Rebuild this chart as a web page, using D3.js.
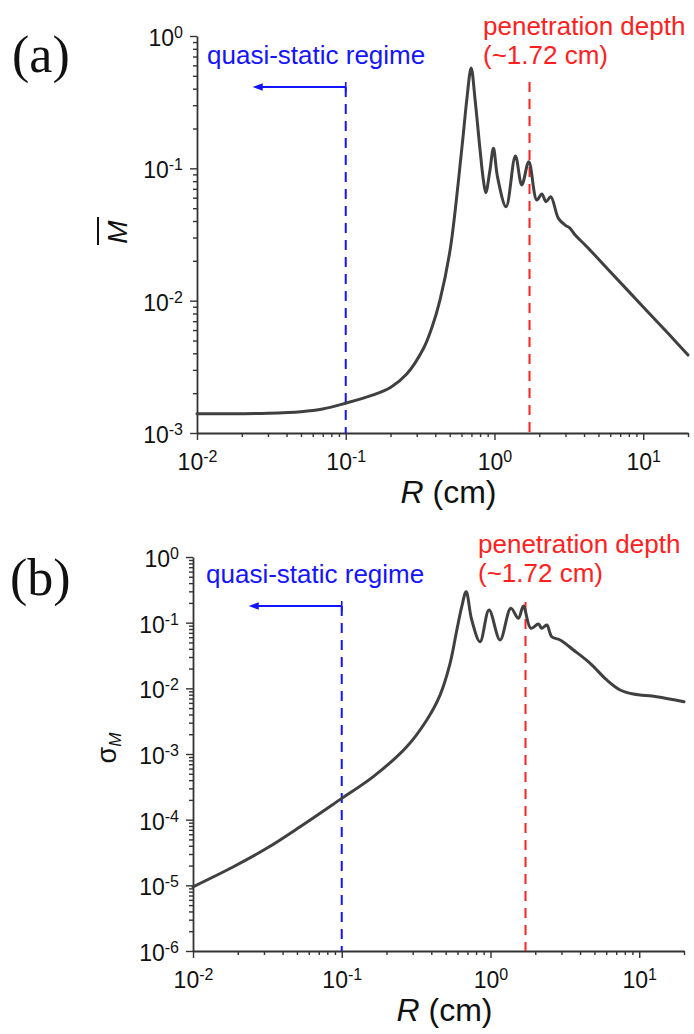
<!DOCTYPE html>
<html>
<head>
<meta charset="utf-8">
<script src="https://cdn.jsdelivr.net/npm/d3@7"></script>
<style>
  html, body { margin: 0; padding: 0; background: #fff; }
  svg { display: block; font-family: "Liberation Sans", Arial, sans-serif; }
</style>
</head>
<body>
<svg id="fig" width="694" height="1034"></svg>
<script>
// Radius R (cm) and mean magnetisation M̄ for panel (a)
const radiusA = [0.01, 0.02, 0.03, 0.05, 0.07, 0.1, 0.153, 0.2, 0.257, 0.333, 0.38, 0.43, 0.503, 0.57, 0.618, 0.651,
                 0.697, 0.741, 0.80, 0.842, 0.874, 0.93, 0.984, 1.05, 1.197, 1.382, 1.526, 1.701, 1.925, 2.08, 2.22,
                 2.39, 2.69, 3.0, 3.2, 3.5, 4.18, 6, 10, 15, 20];
const meanM   = [0.00140, 0.00140, 0.00141, 0.00145, 0.00152, 0.00168, 0.00194, 0.00221, 0.00279, 0.00435, 0.0063,
                 0.0101, 0.0241, 0.077, 0.184, 0.328, 0.573, 0.328, 0.1375, 0.0816, 0.0654, 0.095, 0.1416, 0.085,
                 0.0513, 0.124, 0.0748, 0.112, 0.0576, 0.064, 0.056, 0.061, 0.0419, 0.0371, 0.0355, 0.0312, 0.02556,
                 0.01655, 0.00897, 0.00552, 0.00388];

// Radius R (cm) and standard deviation σ_M for panel (b)
const radiusB = [0.01, 0.0187, 0.0313, 0.0525, 0.1, 0.163, 0.2735, 0.373, 0.458, 0.535, 0.593, 0.641, 0.686, 0.748,
                 0.851, 0.978, 1.16, 1.37, 1.54, 1.664, 1.866, 2.10, 2.21, 2.39, 2.58, 2.94, 3.61, 4.68, 6.05,
                 7.44, 9.14, 13.1, 20];
const sigmaM  = [9.5e-6, 1.92e-5, 3.66e-5, 7.8e-5, 2.11e-4, 4.52e-4, 1.29e-3, 3.3e-3, 7.9e-3, 0.024, 0.0759, 0.175,
                 0.296, 0.11, 0.0513, 0.156, 0.0545, 0.1655, 0.1165, 0.1795, 0.082, 0.0955, 0.082, 0.092, 0.0611,
                 0.0545, 0.0384, 0.024, 0.0134, 0.00944, 0.0082, 0.00746, 0.00626];

// Axis extents and marker positions
const xDomain = [0.01, 20];
const yDomainA = [1e-3, 1];
const yDomainB = [1e-6, 1];
const quasiStaticR = 0.1;
const penetrationR = 1.72;
const penetrationLabel = ["penetration depth", "(~1.72 cm)"];
const quasiLabel = "quasi-static regime";

const svg = d3.select("#fig");
const INK = "#333";
const CURVE = "#404040";
const BLUE = "#1414ff";
const RED = "#ff2020";
const SERIF = "'Liberation Serif', 'Times New Roman', serif";

const isMajor = v => Math.abs(Math.log10(v) - Math.round(Math.log10(v))) < 1e-6;

function expLabel(sel, v, supDy) {
  const e = Math.round(Math.log10(v));
  sel.append("tspan").text("10");
  sel.append("tspan").attr("font-size", 16).attr("dy", supDy).text(e);
}

function drawPanel(p) {
  const x = d3.scaleLog().domain(xDomain).range([p.left, p.right]);
  const y = d3.scaleLog().domain(p.yDomain).range([p.bottom, p.top]);

  // bottom axis
  const gx = svg.append("g").attr("transform", `translate(0,${p.bottom})`)
    .call(d3.axisBottom(x).tickValues(x.ticks()).tickSize(7).tickSizeOuter(0).tickFormat(""));
  gx.attr("font-family", null);
  gx.select(".domain").attr("stroke", INK).attr("stroke-width", 1.8);
  gx.selectAll(".tick line").attr("stroke", INK).attr("stroke-width", 1.4)
    .attr("y2", d => isMajor(d) ? 7 : 4);
  gx.selectAll(".tick text").remove();
  gx.selectAll(".tick").filter(isMajor).append("text")
    .attr("y", 37).attr("text-anchor", "middle").attr("fill", "#111")
    .attr("font-size", 23)
    .each(function (d) { expLabel(d3.select(this), d, -8); });

  // left axis
  const gy = svg.append("g").attr("transform", `translate(${p.left},0)`)
    .call(d3.axisLeft(y).tickValues(y.ticks()).tickSize(7).tickSizeOuter(0).tickFormat(""));
  gy.attr("font-family", null);
  gy.select(".domain").attr("stroke", INK).attr("stroke-width", 1.8);
  gy.selectAll(".tick line").attr("stroke", INK).attr("stroke-width", 1.4)
    .attr("x2", d => isMajor(d) ? -7 : -4);
  gy.selectAll(".tick text").remove();
  gy.selectAll(".tick").filter(isMajor).append("text")
    .attr("x", -14).attr("y", 9.5).attr("text-anchor", "end").attr("fill", "#111")
    .attr("font-size", 23)
    .each(function (d) { expLabel(d3.select(this), d, -8); });

  // x-axis title
  const xt = svg.append("text").attr("x", (p.left + p.right) / 2 + 6).attr("y", p.bottom + 70)
    .attr("text-anchor", "middle").attr("font-size", 32).attr("fill", "#111");
  xt.append("tspan").attr("font-style", "italic").text("R");
  xt.append("tspan").text(" (cm)");

  // panel tag
  svg.append("text").attr("x", p.tagX).attr("y", p.tagY)
    .style("font-family", SERIF)
    .attr("font-size", 52).attr("fill", "#111").text(p.tag);

  // quasi-static marker
  const xq = x(quasiStaticR);
  svg.append("line").attr("x1", xq).attr("x2", xq).attr("y1", p.arrowY).attr("y2", p.bottom)
    .attr("stroke", BLUE).attr("stroke-width", 2).attr("stroke-dasharray", "10,7");
  const ax0 = xq - 93;
  svg.append("line").attr("x1", ax0 + 6).attr("x2", xq).attr("y1", p.arrowY).attr("y2", p.arrowY)
    .attr("stroke", BLUE).attr("stroke-width", 2);
  svg.append("line").attr("x1", xq).attr("x2", xq).attr("y1", p.arrowY - 5).attr("y2", p.arrowY + 5)
    .attr("stroke", BLUE).attr("stroke-width", 1.6);
  svg.append("path")
    .attr("d", `M${ax0},${p.arrowY} L${ax0 + 10},${p.arrowY - 3.8} L${ax0 + 10},${p.arrowY + 3.8} Z`)
    .attr("fill", BLUE);
  svg.append("text").attr("x", p.quasiX).attr("y", p.quasiY)
    .attr("font-size", 26).attr("fill", BLUE).text(quasiLabel);

  // penetration depth marker
  const xp = x(penetrationR);
  svg.append("line").attr("x1", xp).attr("x2", xp).attr("y1", p.penLineTop).attr("y2", p.bottom)
    .attr("stroke", RED).attr("stroke-width", 2).attr("stroke-dasharray", "10,7");
  svg.append("text").attr("x", p.penX).attr("y", p.penY)
    .attr("font-size", 26).attr("fill", RED).text(penetrationLabel[0]);
  svg.append("text").attr("x", p.penX).attr("y", p.penY + 29)
    .attr("font-size", 26).attr("fill", RED).text(penetrationLabel[1]);

  // curve
  const pts = p.xs.map((r, i) => [r, p.ys[i]]);
  const line = d3.line().x(d => x(d[0])).y(d => y(d[1])).curve(d3.curveCatmullRom.alpha(0.5));
  svg.append("path").datum(pts).attr("d", line)
    .attr("fill", "none").attr("stroke", CURVE).attr("stroke-width", 3)
    .attr("stroke-linejoin", "round").attr("stroke-linecap", "round");

  return { x, y };
}

// (a) mean value
drawPanel({
  left: 197, right: 688, top: 36, bottom: 433, yDomain: yDomainA,
  xs: radiusA, ys: meanM, tag: "(a)", tagX: 12, tagY: 72,
  arrowY: 87, quasiX: 207, quasiY: 64, penLineTop: 82, penX: 483, penY: 35
});
const mTitle = svg.append("g").attr("transform", "translate(127,232) rotate(-90)");
mTitle.append("text").attr("text-anchor", "middle").attr("font-size", 28)
  .attr("font-style", "italic").attr("fill", "#111").text("M");
mTitle.append("line").attr("x1", -13).attr("x2", 15).attr("y1", -29).attr("y2", -29)
  .attr("stroke", "#111").attr("stroke-width", 2);

// (b) standard deviation
drawPanel({
  left: 193, right: 684, top: 557, bottom: 951, yDomain: yDomainB,
  xs: radiusB, ys: sigmaM, tag: "(b)", tagX: 10, tagY: 595,
  arrowY: 606, quasiX: 206, quasiY: 583, penLineTop: 602, penX: 478, penY: 553
});
const sTitle = svg.append("g").attr("transform", "translate(116,748) rotate(-90)");
const st = sTitle.append("text").attr("text-anchor", "middle").attr("font-size", 27).attr("fill", "#111");
st.append("tspan").text("σ");
st.append("tspan").attr("font-size", 17).attr("font-style", "italic").attr("dy", 5).text("M");
</script>
</body>
</html>
